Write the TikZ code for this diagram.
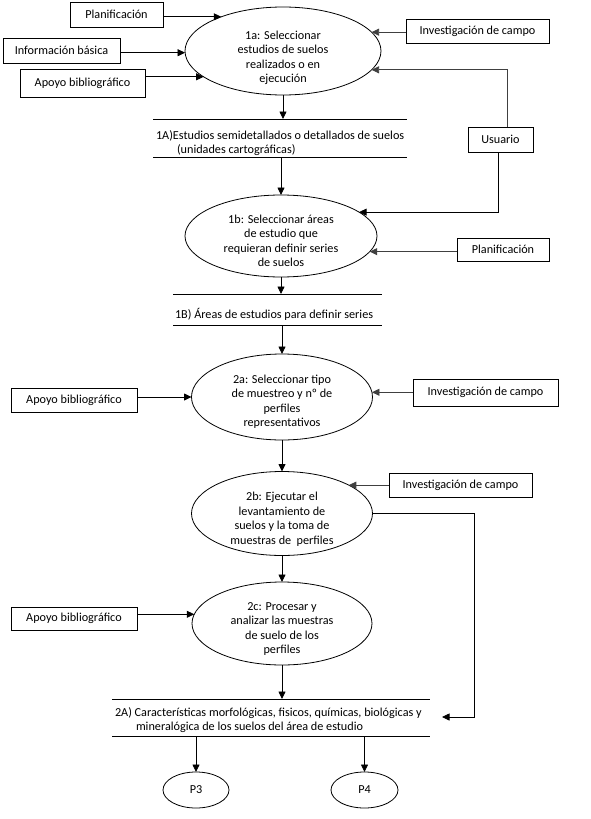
\documentclass[tikz,border=0pt]{standalone}
\usepackage{fontspec}
\setmainfont{Carlito}
\usetikzlibrary{shapes.geometric,arrows.meta}
\begin{document}
\begin{tikzpicture}[x=1pt,y=-1pt,
  font=\fontsize{12.2}{14.5}\selectfont,
  box/.style={draw,line width=0.8pt,rectangle,inner sep=0pt,outer sep=0pt},
  ell/.style={draw,line width=0.8pt,ellipse,inner sep=0pt,outer sep=0pt},
  txt/.style={inner sep=0pt,outer sep=0pt,align=center},
  store/.style={inner sep=0pt,outer sep=0pt,rectangle},
  arr/.style={line width=0.8pt,-{Triangle[length=7.5pt,width=7pt]}},
  garr/.style={arr,draw=black!75,color=black!75},
  sline/.style={line width=0.8pt}]
\fill[white] (0,0) rectangle (590,819);
\useasboundingbox (0,0) rectangle (590,819);

% ---- ellipses (processes)
\node[ell,minimum width=196pt,minimum height=88pt] (e1a) at (283,51) {};
\node[txt] (t1a) at (283,58) {1a: Seleccionar\\estudios de suelos\\realizados o en\\ejecución};
\node[ell,minimum width=192pt,minimum height=82pt] (e1b) at (281,236) {};
\node[txt] (t1b) at (281,241) {1b: Seleccionar áreas\\de estudio que\\requieran definir series\\de suelos};
\node[ell,minimum width=181pt,minimum height=86pt] (e2a) at (282,397) {};
\node[txt] (t2a) at (282,401.5) {2a: Seleccionar tipo\\de muestreo y nº de\\perfiles\\representativos};
\node[ell,minimum width=181pt,minimum height=84pt] (e2b) at (282,513.5) {};
\node[txt] (t2b) at (282,519) {2b: Ejecutar el\\levantamiento de\\suelos y la toma de\\muestras de\ \ perfiles};
\node[ell,minimum width=180pt,minimum height=83pt] (e2c) at (282,623.5) {};
\node[txt] (t2c) at (282,629) {2c: Procesar y\\analizar las muestras\\de suelo de los\\perfiles};
\node[ell,minimum width=66pt,minimum height=36pt] (P3) at (196,790) {P3};
\node[ell,minimum width=67pt,minimum height=36pt] (P4) at (364.5,790) {P4};

% ---- external boxes
\node[box,minimum width=93pt,minimum height=25pt] (plan1) at (116.5,14.5) {Planificación};
\node[box,minimum width=117pt,minimum height=25pt] (info) at (61.5,50.5) {Información básica};
\node[box,minimum width=125pt,minimum height=28pt] (apoyo1) at (82.5,83) {Apoyo bibliográfico};
\node[box,minimum width=143pt,minimum height=24pt] (inv1) at (477.5,31) {Investigación de campo};
\node[box,minimum width=65pt,minimum height=25pt] (usuario) at (500.5,139.5) {Usuario};
\node[box,minimum width=92pt,minimum height=23pt] (plan2) at (503,249.5) {Planificación};
\node[box,minimum width=126pt,minimum height=24pt] (apoyo2) at (74,400) {Apoyo bibliográfico};
\node[box,minimum width=145pt,minimum height=27pt] (inv2) at (485.5,392.5) {Investigación de campo};
\node[box,minimum width=143pt,minimum height=24pt] (inv3) at (460.5,485) {Investigación de campo};
\node[box,minimum width=126pt,minimum height=23pt] (apoyo3) at (74,618.5) {Apoyo bibliográfico};

% ---- data stores
\node[store,minimum width=254pt,minimum height=38pt] (s1A) at (280,138) {};
\draw[sline] (s1A.north west) -- (s1A.north east) (s1A.south west) -- (s1A.south east);
\node[txt,anchor=west] (t1A1) at (156,136) {1A)Estudios semidetallados o detallados de suelos};
\node[txt,anchor=west] (t1A2) at (177,150) {(unidades cartográficas)};

\node[store,minimum width=209pt,minimum height=31pt] (s1B) at (277.5,309.5) {};
\draw[sline] (s1B.north west) -- (s1B.north east) (s1B.south west) -- (s1B.south east);
\node[txt,anchor=west] (t1B) at (175,314) {1B) Áreas de estudios para definir series};

\node[store,minimum width=318pt,minimum height=37pt] (s2A) at (271,717.5) {};
\draw[sline] (s2A.north west) -- (s2A.north east) (s2A.south west) -- (s2A.south east);
\node[txt,anchor=west] (t2A1) at (115,713) {2A) Características morfológicas, fisicos, químicas, biológicas y};
\node[txt,anchor=west] (t2A2) at (136,727) {mineralógica de los suelos del área de estudio};

% ---- connectors
\draw[arr] (plan1.east |- e1a.151.3) -- (e1a.151.3);
\draw[arr] (info.east |- e1a.181) -- (e1a.181);
\draw[arr] (apoyo1.east |- e1a.198.2) -- (e1a.198.2);
\draw[garr] (inv1.west |- e1a.12.9) -- (e1a.12.9);
\draw[garr] ([xshift=6.5pt]usuario.north) |- (e1a.348.6);
\draw[arr] ([xshift=-2.5pt]usuario.south) |- (e1b.17.1);
\draw[garr] (plan2.west |- e1b.350.5) -- (e1b.350.5);

\draw[arr] (e1a.south) -- (e1a.south |- s1A.north);
\draw[arr] (s1A.south -| e1b.north) -- (e1b.north);
\draw[arr] (e1b.south) -- (e1b.south |- s1B.north);
\draw[arr] (s1B.south -| e2a.north) -- (e2a.north);

\draw[arr] (apoyo2.east |- e2a.west) -- (e2a.west);
\draw[garr] (inv2.west |- e2a.3.2) -- (e2a.3.2);
\draw[arr] (e2a.south) -- (e2b.north);
\draw[garr] (inv3.west |- e2b.23.2) -- (e2b.23.2);
\draw[arr] (e2b.south) -- (e2c.north);
\draw[arr] (apoyo3.east |- e2c.174.5) -- (e2c.174.5);
\draw[arr] (e2c.south) -- (e2c.south |- s2A.north);

\coordinate (k1) at (474,513.5);
\coordinate (t2Aend) at (442,717);
\draw[arr] (e2b.east) -- (k1) |- (t2Aend);

\draw[arr] (s2A.south -| P3.north) -- (P3.north);
\draw[arr] (s2A.south -| P4.north) -- (P4.north);
\end{tikzpicture}
\end{document}
